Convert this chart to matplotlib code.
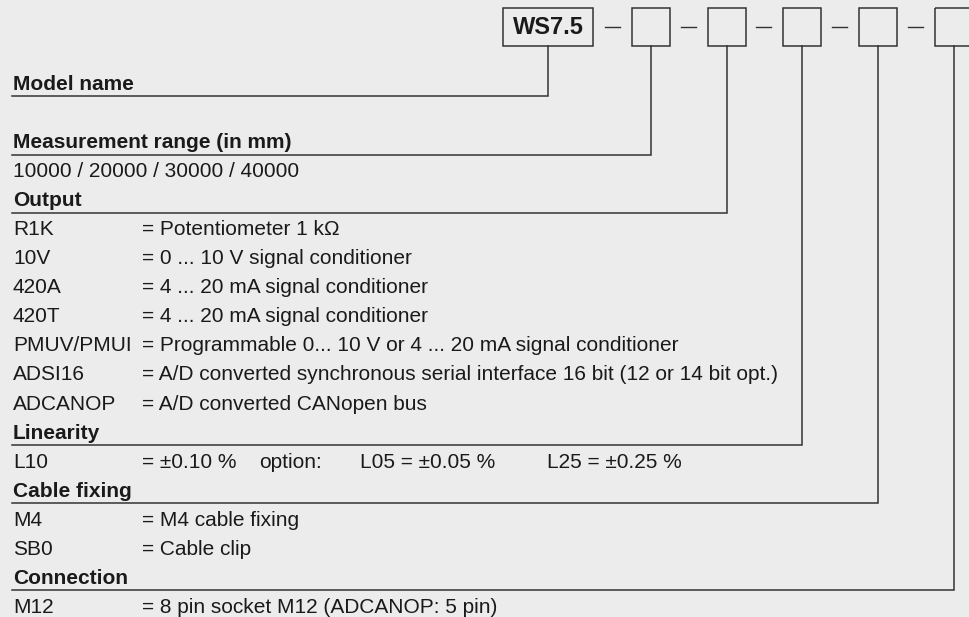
import matplotlib
matplotlib.use("Agg")
import matplotlib.pyplot as plt
from matplotlib.patches import Rectangle

# Bestellschlüssel: Überschriften und Zeilen (code, beschreibung)
model = "WS7.5"
headers = ["Model name", "Measurement range (in mm)", "Output", "Linearity",
           "Cable fixing", "Connection"]
range_rows = [("10000 / 20000 / 30000 / 40000", "")]
output_rows = [("R1K", "= Potentiometer 1 k\u03a9"),
               ("10V", "= 0 ... 10 V signal conditioner"),
               ("420A", "= 4 ... 20 mA signal conditioner"),
               ("420T", "= 4 ... 20 mA signal conditioner"),
               ("PMUV/PMUI", "= Programmable 0... 10 V or 4 ... 20 mA signal conditioner"),
               ("ADSI16", "= A/D converted synchronous serial interface 16 bit (12 or 14 bit opt.)"),
               ("ADCANOP", "= A/D converted CANopen bus")]
linearity_rows = [("L10", "= \u00b10.10 %")]
linearity_opts = ["option:", "L05 = \u00b10.05 %", "L25 = \u00b10.25 %"]
cable_rows = [("M4", "= M4 cable fixing"),
              ("SB0", "= Cable clip")]
conn_rows = [("M12", "= 8 pin socket M12 (ADCANOP: 5 pin)")]

sections = [[], range_rows, output_rows, linearity_rows, cable_rows, conn_rows]

bg = "#ececec"
ink = "#1a1a1a"
lc = "#333333"
fs = 15

fig = plt.figure(figsize=(9.7, 6.17), dpi=100, facecolor=bg)
ax = fig.add_axes([0, 0, 1, 1])
ax.set_facecolor(bg)
ax.set_xlim(0, 970)
ax.set_ylim(617, 0)
ax.axis("off")

x_code = 13
x_desc = 142
y0 = 148 - 2 * 29.06   # Model name Zeile
step = 29.06

# Kästchen oben
box_w, box_top, box_bot = 38, 8, 46
ax.add_patch(Rectangle((503, box_top), 90, box_bot - box_top, fill=False,
                       edgecolor=lc, lw=1.1))
ax.text(548, 28, model, fontsize=17, fontweight="bold", color=ink,
        ha="center", va="center", family="Liberation Sans")
centers = [548]
for k in range(5):
    bx = 632 + k * 75.7
    ax.add_patch(Rectangle((bx, box_top), box_w, box_bot - box_top, fill=False,
                           edgecolor=lc, lw=1.1, clip_on=True))
    ax.plot([bx - 27, bx - 12], [27, 27], color=lc, lw=1.0)
    centers.append(bx + box_w / 2)

row = 0
for i, (hdr, rows) in enumerate(zip(headers, sections)):
    y = y0 + row * step
    ax.text(x_code, y, hdr, fontsize=fs, fontweight="bold", color=ink,
            va="baseline", family="Liberation Sans")
    ly = y + 6.5
    cx = centers[i]
    ax.plot([x_code - 1, cx, cx], [ly, ly, box_bot], color=lc, lw=1.1,
            solid_joinstyle="miter")
    row += 1
    for code, desc in rows:
        y = y0 + row * step
        ax.text(x_code, y, code, fontsize=fs, color=ink, va="baseline",
                family="Liberation Sans")
        if desc:
            ax.text(x_desc, y, desc, fontsize=fs, color=ink, va="baseline",
                    family="Liberation Sans")
        if code == "L10":
            for xo, t in zip([259, 360, 547], linearity_opts):
                ax.text(xo, y, t, fontsize=fs, color=ink, va="baseline",
                        family="Liberation Sans")
        row += 1
    if i == 0:
        row += 1  # Leerzeile nach Model name

fig.savefig("out.png", dpi=100, facecolor=bg)
